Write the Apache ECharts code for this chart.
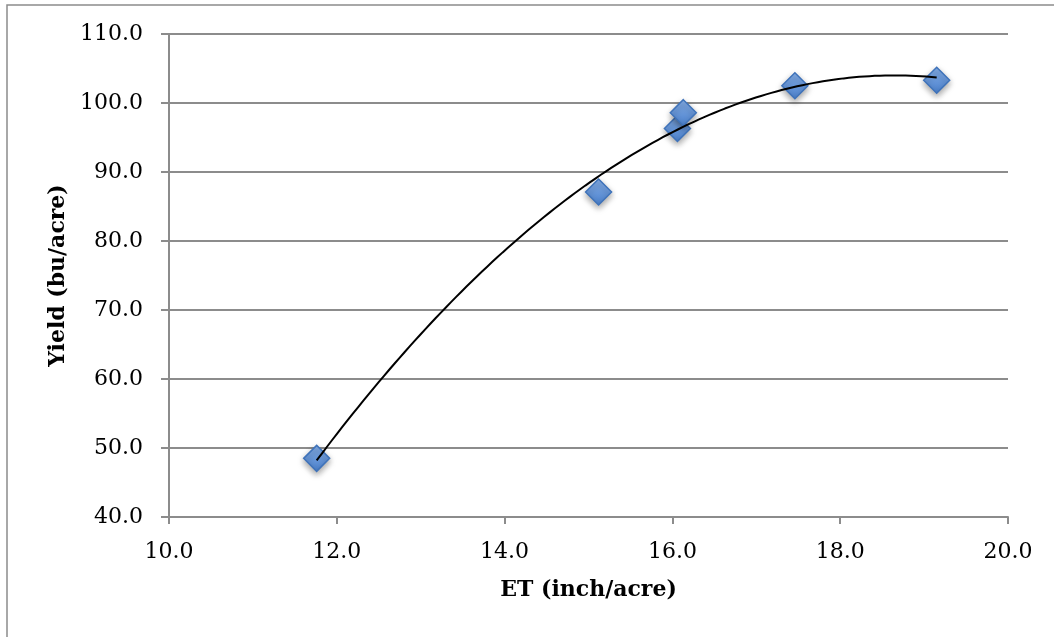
<!DOCTYPE html>
<html>
<head>
<meta charset="utf-8">
<script src="https://cdn.jsdelivr.net/npm/echarts@6/dist/echarts.min.js"></script>
<style>
	html, body { margin: 0; padding: 0; background: #fff; }
	#chart { width: 1054px; height: 637px; }
</style>
</head>
<body>
<div id="chart"></div>
<script>
// ET 與產量
var etValues = [11.76, 15.12, 16.06, 16.13, 17.46, 19.15];
var yieldValues = [48.5, 87.1, 96.3, 98.6, 102.5, 103.3];
var xTicks = { min: 10, max: 20, interval: 2 };
var yTicks = { min: 40, max: 110, interval: 10 };

var points = etValues.map(function (x, i) {
	return [x, yieldValues[i]];
});

// 二次趨勢線（最小平方法）
function quadFit(xs, ys) {
	var n = xs.length, s = [0, 0, 0, 0, 0], t = [0, 0, 0];
	for (var i = 0; i < n; i++) {
		var p = 1;
		for (var k = 0; k < 5; k++) {
			s[k] += p;
			if (k < 3) t[k] += p * ys[i];
			p *= xs[i];
		}
	}
	var m = [
		[s[0], s[1], s[2], t[0]],
		[s[1], s[2], s[3], t[1]],
		[s[2], s[3], s[4], t[2]]
	];
	for (var c = 0; c < 3; c++) {
		for (var r = c + 1; r < 3; r++) {
			var f = m[r][c] / m[c][c];
			for (var j = c; j < 4; j++) m[r][j] -= f * m[c][j];
		}
	}
	var b = [0, 0, 0];
	for (var r2 = 2; r2 >= 0; r2--) {
		var v = m[r2][3];
		for (var j2 = r2 + 1; j2 < 3; j2++) v -= m[r2][j2] * b[j2];
		b[r2] = v / m[r2][r2];
	}
	return b;
}
var coef = quadFit(etValues, yieldValues);
var xMin = Math.min.apply(null, etValues);
var xMax = Math.max.apply(null, etValues);
var trend = [];
for (var i = 0; i <= 120; i++) {
	var x = xMin + (xMax - xMin) * i / 120;
	trend.push([x, coef[0] + coef[1] * x + coef[2] * x * x]);
}

var font = "DejaVu Serif";
var myChart = echarts.init(document.getElementById("chart"));
option = {
	animation: false,
	graphic: [
		{
			type: "rect",
			shape: { x: 7, y: 5, width: 1100, height: 700 },
			style: { fill: "none", stroke: "#8c8c8c", lineWidth: 1.5 },
			silent: true
		}
	],
	grid: { left: 169, top: 34, right: 46, bottom: 120 },
	xAxis: {
		type: "value",
		min: xTicks.min,
		max: xTicks.max,
		interval: xTicks.interval,
		name: "ET (inch/acre)",
		nameLocation: "middle",
		nameGap: 62,
		nameTextStyle: { fontFamily: font, fontWeight: "bold", fontSize: 22, color: "#000" },
		axisLine: { lineStyle: { color: "#8c8c8c", width: 2 } },
		axisTick: { show: true, length: 7, lineStyle: { color: "#8c8c8c", width: 2 } },
		axisLabel: {
			fontFamily: font, fontSize: 22, color: "#000", margin: 24,
			formatter: function (v) { return v.toFixed(1); }
		},
		splitLine: { show: false }
	},
	yAxis: {
		type: "value",
		min: yTicks.min,
		max: yTicks.max,
		interval: yTicks.interval,
		name: "Yield (bu/acre)",
		nameLocation: "middle",
		nameGap: 100,
		nameTextStyle: { fontFamily: font, fontWeight: "bold", fontSize: 22, color: "#000" },
		axisLine: { show: true, lineStyle: { color: "#8c8c8c", width: 2 } },
		axisTick: { show: true, length: 8, lineStyle: { color: "#8c8c8c", width: 2 } },
		axisLabel: {
			fontFamily: font, fontSize: 22, color: "#000", margin: 26,
			formatter: function (v) { return v.toFixed(1); }
		},
		splitLine: { show: true, lineStyle: { color: "#8c8c8c", width: 2 } }
	},
	series: [
		{
			type: "scatter",
			data: points,
			symbol: "diamond",
			symbolSize: 26,
			itemStyle: {
				opacity: 1,
				color: new echarts.graphic.LinearGradient(0, 0, 0, 1, [
					{ offset: 0, color: "#86afe8" },
					{ offset: 1, color: "#4a80cc" }
				]),
				borderColor: "#3f73ba",
				borderWidth: 1.5,
				shadowColor: "rgba(0,0,0,0.35)",
				shadowBlur: 6,
				shadowOffsetY: 3
			},
			z: 2
		},
		{
			type: "line",
			data: trend,
			showSymbol: false,
			smooth: false,
			lineStyle: { color: "#000", width: 2 },
			z: 3
		}
	]
};
myChart.setOption(option);
window.addEventListener("resize", myChart.resize);
</script>
</body>
</html>
